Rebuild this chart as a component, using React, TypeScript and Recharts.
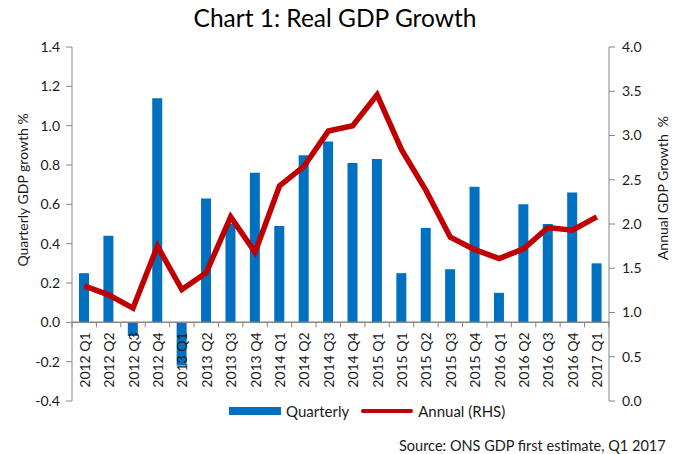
import React from "react";
import {
    Bar,
    ComposedChart,
    Line,
    ReferenceLine,
    XAxis,
    YAxis
} from "recharts";

const categories = [
    "2012 Q1", "2012 Q2", "2012 Q3", "2012 Q4",
    "2013 Q1", "2013 Q2", "2013 Q3", "2013 Q4",
    "2014 Q1", "2014 Q2", "2014 Q3", "2014 Q4",
    "2015 Q1", "2015 Q1", "2015 Q2", "2015 Q3", "2015 Q4",
    "2016 Q1", "2016 Q2", "2016 Q3", "2016 Q4",
    "2017 Q1",
];
const quarterly = [
    0.25, 0.44, -0.07, 1.14,
    -0.22, 0.63, 0.50, 0.76,
    0.49, 0.85, 0.92, 0.81,
    0.83, 0.25, 0.48, 0.27, 0.69,
    0.15, 0.60, 0.50, 0.66,
    0.30,
];
const annual = [
    1.30, 1.20, 1.05, 1.75,
    1.26, 1.45, 2.08, 1.68,
    2.43, 2.65, 3.05, 3.11,
    3.46, 2.84, 2.38, 1.85, 1.71,
    1.61, 1.72, 1.96, 1.93,
    2.08,
];
const leftTicks = [-0.4, -0.2, 0, 0.2, 0.4, 0.6, 0.8, 1.0, 1.2, 1.4];
const rightTicks = [0, 0.5, 1.0, 1.5, 2.0, 2.5, 3.0, 3.5, 4.0];

const W = 681;
const H = 454;
const TOP = 47;
const BOTTOM = 53;
const AXIS_W = 72;
const PLOT_W = W - AXIS_W * 2;
const PLOT_H = H - TOP - BOTTOM;
const FONT = "Lato, 'Open Sans', sans-serif";
const GREY = "#868686";
const TEXT = "#1a1a1a";

const data = categories.map((c, i) => ({
    idx: i,
    name: c,
    quarterly: quarterly[i],
    annual: annual[i],
}));

// zero line of the left axis: the category labels hang from it
const leftMin = leftTicks[0];
const leftMax = leftTicks[leftTicks.length - 1];
const zeroY = TOP + PLOT_H * (leftMax / (leftMax - leftMin));
const band = PLOT_W / categories.length;

function CategoryTick(props: any) {
    const { x, payload, index } = props;
    const label = categories[payload.value];
    const left = x - band / 2;
    return (
        <g>
            <line x1={left} x2={left} y1={zeroY} y2={zeroY + 5} stroke={GREY} />
            {index === categories.length - 1 && (
                <line x1={left + band} x2={left + band} y1={zeroY} y2={zeroY + 5} stroke={GREY} />
            )}
            <text
                x={x}
                y={zeroY + 10}
                transform={`rotate(-90, ${x}, ${zeroY + 10})`}
                textAnchor="end"
                dominantBaseline="central"
                fontSize={14}
                fontFamily={FONT}
                fill={TEXT}
            >
                {label}
            </text>
        </g>
    );
}

export default function App() {
    return (
        <div style={{ position: "absolute", left: 0, top: 0, width: W, height: H, background: "#fff", fontFamily: FONT }}>
            <div style={{ position: "absolute", left: 0, top: 3, width: 670, textAlign: "center", fontSize: 24.5, color: "#000" }}>
                Chart 1: Real GDP Growth
            </div>
            <div style={{
                position: "absolute", left: 22, top: 190, whiteSpace: "nowrap", fontSize: 14, color: TEXT,
                transform: "translate(-50%, -50%) rotate(-90deg)"
            }}>
                Quarterly GDP growth %
            </div>
            <div style={{
                position: "absolute", left: 662, top: 188, whiteSpace: "nowrap", fontSize: 14, color: TEXT,
                transform: "translate(-50%, -50%) rotate(-90deg)"
            }}>
                Annual GDP Growth &nbsp;%
            </div>
            <ComposedChart
                width={W}
                height={H}
                data={data}
                margin={{ top: TOP, right: 0, left: 0, bottom: BOTTOM - 1 }}
                barCategoryGap="0%"
            >
                <XAxis
                    dataKey="idx"
                    type="category"
                    height={1}
                    axisLine={false}
                    tickLine={false}
                    interval={0}
                    tick={CategoryTick}
                />
                <YAxis
                    yAxisId="left"
                    width={AXIS_W}
                    domain={[leftMin, leftMax]}
                    ticks={leftTicks}
                    interval={0}
                    tickFormatter={(v: number) => v.toFixed(1)}
                    stroke={GREY}
                    tickSize={6}
                    tickMargin={6}
                    tick={{ fill: TEXT, fontSize: 14, fontFamily: FONT }}
                />
                <YAxis
                    yAxisId="right"
                    orientation="right"
                    width={AXIS_W}
                    domain={[0, 4]}
                    ticks={rightTicks}
                    interval={0}
                    tickFormatter={(v: number) => v.toFixed(1)}
                    stroke={GREY}
                    tickSize={6}
                    tickMargin={7}
                    tick={{ fill: TEXT, fontSize: 14, fontFamily: FONT }}
                />
                <Bar
                    yAxisId="left"
                    dataKey="quarterly"
                    name="Quarterly"
                    fill="#0070C0"
                    barSize={10}
                    isAnimationActive={false}
                />
                <ReferenceLine yAxisId="left" y={0} stroke={GREY} strokeWidth={1.5} />
                <Line
                    yAxisId="right"
                    type="linear"
                    dataKey="annual"
                    name="Annual (RHS)"
                    stroke="#C00000"
                    strokeWidth={5.5}
                    dot={false}
                    isAnimationActive={false}
                />
            </ComposedChart>
            <div style={{
                position: "absolute", left: 229, top: 402, display: "flex", alignItems: "center",
                fontSize: 15, color: TEXT, whiteSpace: "nowrap"
            }}>
                <span style={{ width: 52, height: 8, background: "#0070C0", display: "inline-block" }} />
                <span style={{ marginLeft: 5 }}>Quarterly</span>
                <span style={{ width: 52, height: 4, background: "#C00000", borderRadius: 2, display: "inline-block", marginLeft: 12 }} />
                <span style={{ marginLeft: 5 }}>Annual (RHS)</span>
            </div>
            <div style={{ position: "absolute", left: 399, top: 437, fontSize: 14.5, color: TEXT, whiteSpace: "nowrap" }}>
                Source: ONS GDP first estimate, Q1 2017
            </div>
        </div>
    );
}
